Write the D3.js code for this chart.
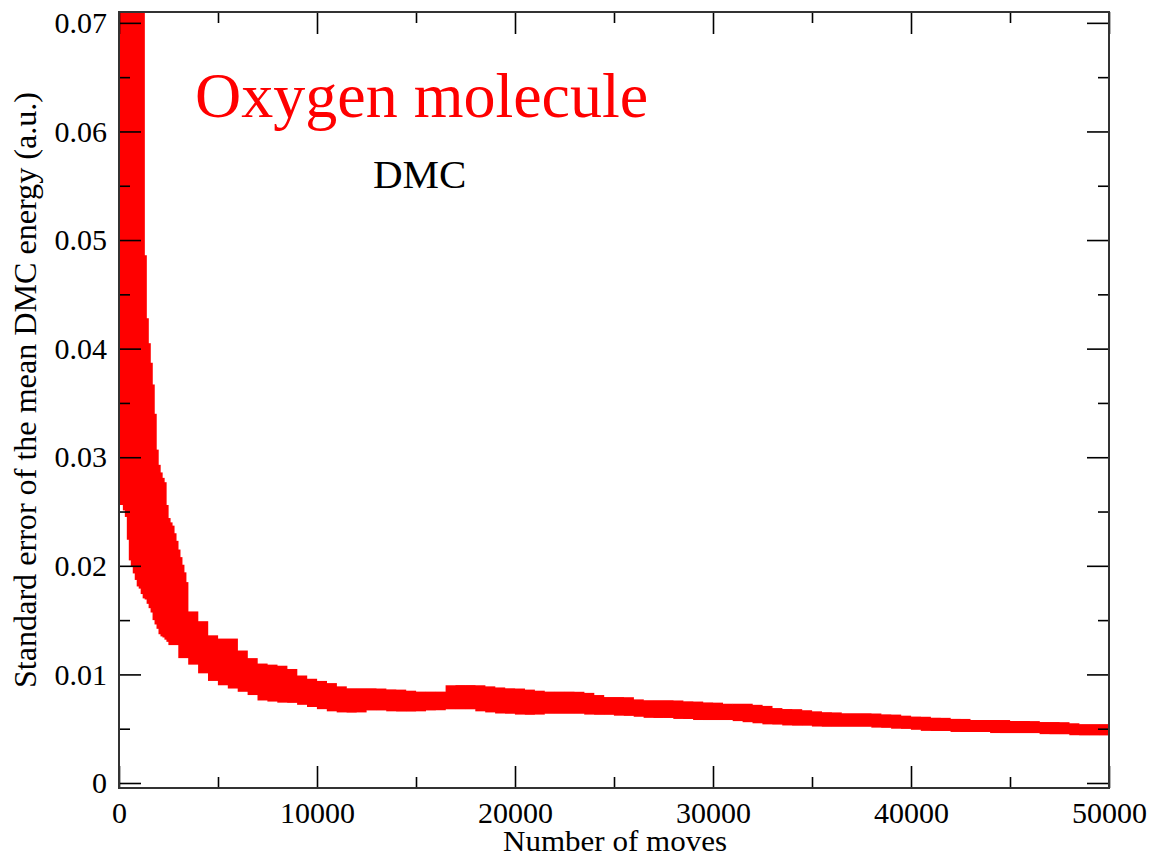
<!DOCTYPE html>
<html><head><meta charset="utf-8">
<script src="https://cdn.jsdelivr.net/npm/d3@7"></script>
<style>
body{margin:0;background:#fff}
svg text{font-family:"Liberation Serif","Times New Roman",serif}
</style>
</head><body>
<svg id="chart" width="1152" height="860"></svg>
<script>
// ---- data ----
const moves = [0,100,200,300,400,500,600,700,800,900,1000,1100,1200,1300,1400,1500,1600,1700,1800,1900,2000,
  2100,2200,2300,2400,2500,2600,2700,2800,2900,3000,
  3500,4000,4500,5000,5500,6000,6500,7000,7500,8000,8500,9000,9500,10000,
  10500,11000,11500,12000,12500,13000,13500,14000,14500,15000,15500,16000,16500,17000,17500,18000,18500,19000,19500,20000,
  20500,21000,21500,22000,22500,23000,23500,24000,24500,25000,25500,26000,26500,27000,27500,28000,28500,29000,29500,30000,
  30500,31000,31500,32000,32500,33000,33500,34000,34500,35000,35500,36000,36500,37000,37500,38000,38500,39000,39500,40000,
  40500,41000,41500,42000,42500,43000,43500,44000,44500,45000,45500,46000,46500,47000,47500,48000,48500,49000,49500,50000];

// upper end of each error bar
const barHigh = [0.100,0.100,0.095,0.090,0.088,0.085,0.080,0.078,0.075,0.0486,0.0428,0.0405,0.0387,0.0367,0.0340,0.0307,0.0293,0.0286,0.0281,0.0277,0.0256,
  0.0244,0.0240,0.0237,0.0230,0.0223,0.0215,0.0208,0.0201,0.0194,0.0185,
  0.0158,0.0149,0.0136,0.0125,0.0133,0.0122,0.0115,0.0110,0.0109,0.0108,0.0105,0.0099,0.0096,0.0094,
  0.0092,0.0089,0.0087,0.0087,0.0087,0.0087,0.0086,0.0086,0.0085,0.0084,0.0084,0.0084,0.0084,0.0090,0.0090,0.0090,0.0089,0.0088,0.0087,0.0087,
  0.0086,0.0085,0.0084,0.0084,0.0084,0.0084,0.0083,0.0081,0.0079,0.0079,0.0079,0.0077,0.0076,0.0076,0.0076,0.0076,0.0075,0.0075,0.0074,0.0074,
  0.0073,0.0072,0.0073,0.0072,0.0071,0.0069,0.0068,0.0068,0.0067,0.0066,0.0065,0.0065,0.0064,0.0064,0.0064,0.0064,0.0063,0.0063,0.0062,0.0061,
  0.0061,0.0060,0.0060,0.0059,0.0059,0.0058,0.0058,0.0058,0.0058,0.0057,0.0057,0.0057,0.0056,0.0056,0.0056,0.0055,0.0054,0.0054,0.0054,0.0054];

// lower end of each error bar
const barLow = [0.0256,0.0258,0.0260,0.0260,0.0260,0.0258,0.0256,0.0251,0.0245,0.0224,0.0205,0.0199,0.0193,0.0187,0.0181,0.0179,0.0174,0.0170,0.0169,0.0165,0.0161,
  0.0157,0.0150,0.0146,0.0142,0.0137,0.0135,0.0134,0.0132,0.0130,0.0127,
  0.0115,0.0109,0.0101,0.0094,0.0090,0.0087,0.0084,0.0081,0.0076,0.0075,0.0074,0.0074,0.0072,0.0070,
  0.0068,0.0066,0.0065,0.0065,0.0067,0.0067,0.0067,0.0066,0.0066,0.0066,0.0067,0.0067,0.0068,0.0068,0.0068,0.0068,0.0066,0.0065,0.0064,0.0064,
  0.0063,0.0063,0.0064,0.0064,0.0064,0.0064,0.0064,0.0063,0.0063,0.0063,0.0062,0.0062,0.0061,0.0060,0.0060,0.0060,0.0059,0.0059,0.0058,0.0058,
  0.0058,0.0058,0.0057,0.0056,0.0055,0.0054,0.0054,0.0053,0.0053,0.0053,0.0052,0.0052,0.0052,0.0052,0.0052,0.0052,0.0051,0.0051,0.0050,0.0050,
  0.0049,0.0048,0.0048,0.0048,0.0047,0.0047,0.0047,0.0047,0.0046,0.0046,0.0046,0.0046,0.0046,0.0045,0.0045,0.0045,0.0044,0.0044,0.0044,0.0044];

const xMajorTicks = [0,10000,20000,30000,40000,50000];
const xMinorTicks = [5000,15000,25000,35000,45000];
const yMajorTicks = [0,0.01,0.02,0.03,0.04,0.05,0.06,0.07];
const yMinorTicks = [0.005,0.015,0.025,0.035,0.045,0.055,0.065];
const titleText = "Oxygen molecule";
const subText = "DMC";
const xLabel = "Number of moves";
const yLabel = "Standard error of the mean DMC energy (a.u.)";

// ---- layout ----
const svg = d3.select("#chart");
const L = 119, R = 1109, T = 12, B = 788;
const x = d3.scaleLinear().domain([0, 50000]).range([L, R]);
const y = d3.scaleLinear().domain([-0.00046, 0.0710]).range([B, T]);

svg.append("rect").attr("width",1152).attr("height",860).attr("fill","#fff");
svg.append("defs").append("clipPath").attr("id","clip")
  .append("rect").attr("x",L).attr("y",T).attr("width",R-L).attr("height",B-T);

// ---- error bars (dense bars with 20px caps merge into a filled band) ----
const capHalf = 10;
const pts = moves.map((mv,i)=>({mv, lo:barLow[i], hi:barHigh[i]}));
const gData = svg.append("g").attr("clip-path","url(#clip)");
gData.selectAll("rect.bar").data(pts).join("rect").attr("class","bar")
  .attr("x", d=>x(d.mv)-capHalf)
  .attr("width", 2*capHalf)
  .attr("y", d=>y(d.hi))
  .attr("height", d=>y(d.lo)-y(d.hi))
  .attr("fill","#ff0000");

// ---- axes ----
const fmtY = d => d===0 ? "0" : d3.format(".2f")(d);
function styleAxis(g){
  g.select(".domain").remove();
  g.selectAll(".tick line").attr("stroke","#000").attr("stroke-width",1.6);
  g.selectAll(".tick text").attr("font-size",30).attr("fill","#000")
    .style("font-family","'Liberation Serif','Times New Roman',serif");
}
svg.append("g").attr("transform",`translate(0,${B})`)
  .call(d3.axisBottom(x).tickValues(xMajorTicks).tickSize(-22).tickPadding(14).tickFormat(d3.format("d")))
  .call(styleAxis);
svg.append("g").attr("transform",`translate(0,${B})`)
  .call(d3.axisBottom(x).tickValues(xMinorTicks).tickSize(-11).tickFormat(""))
  .call(styleAxis);
svg.append("g").attr("transform",`translate(0,${T})`)
  .call(d3.axisTop(x).tickValues(xMajorTicks).tickSize(-22).tickFormat(""))
  .call(styleAxis);
svg.append("g").attr("transform",`translate(0,${T})`)
  .call(d3.axisTop(x).tickValues(xMinorTicks).tickSize(-11).tickFormat(""))
  .call(styleAxis);
svg.append("g").attr("transform",`translate(${L},0)`)
  .call(d3.axisLeft(y).tickValues(yMajorTicks).tickSize(-22).tickPadding(12).tickFormat(fmtY))
  .call(styleAxis);
svg.append("g").attr("transform",`translate(${L},0)`)
  .call(d3.axisLeft(y).tickValues(yMinorTicks).tickSize(-11).tickFormat(""))
  .call(styleAxis);
svg.append("g").attr("transform",`translate(${R},0)`)
  .call(d3.axisRight(y).tickValues(yMajorTicks).tickSize(-22).tickFormat(""))
  .call(styleAxis);
svg.append("g").attr("transform",`translate(${R},0)`)
  .call(d3.axisRight(y).tickValues(yMinorTicks).tickSize(-11).tickFormat(""))
  .call(styleAxis);

// frame
svg.append("rect").attr("x",L).attr("y",T).attr("width",R-L).attr("height",B-T)
  .attr("fill","none").attr("stroke","#333").attr("stroke-width",2);

// ---- labels ----
svg.append("text").attr("x",615).attr("y",851).attr("text-anchor","middle")
  .attr("font-size",29).attr("fill","#000")
  .attr("textLength",224).attr("lengthAdjust","spacingAndGlyphs").text(xLabel);
svg.append("text").attr("transform",`translate(36,390) rotate(-90)`)
  .attr("text-anchor","middle").attr("font-size",31).attr("fill","#000")
  .attr("textLength",596).attr("lengthAdjust","spacingAndGlyphs").text(yLabel);
svg.append("text").attr("x",195).attr("y",117).attr("font-size",64).attr("fill","#ff0000").text(titleText);
svg.append("text").attr("x",373).attr("y",188).attr("font-size",41).attr("fill","#000").text(subText);
</script>
</body></html>
